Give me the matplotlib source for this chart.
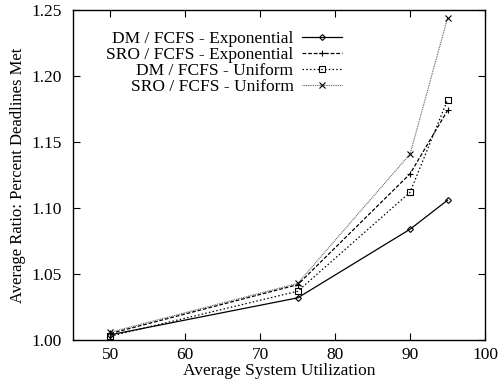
import numpy as np
import matplotlib
matplotlib.use('Agg')
import matplotlib.pyplot as plt

plt.rcParams['font.family'] = ['Liberation Serif', 'DejaVu Serif']
plt.rcParams['mathtext.fontset'] = 'stix'

#data
util = [50, 75, 90, 95]
dm_exp = [1.004, 1.032, 1.084, 1.106]
sro_exp = [1.005, 1.042, 1.126, 1.174]
dm_uni = [1.003, 1.037, 1.112, 1.182]
sro_uni = [1.006, 1.043, 1.141, 1.244]

labels = ['DM / FCFS - Exponential', 'SRO / FCFS - Exponential',
          'DM / FCFS - Uniform', 'SRO / FCFS - Uniform']

xticks = [50, 60, 70, 80, 90, 100]
yticks = [1.00, 1.05, 1.10, 1.15, 1.20, 1.25]

fig = plt.figure(figsize=(5.0, 3.9), dpi=100)
ax = fig.add_axes([0.146, 0.128, 0.824, 0.846])

ax.plot(util, dm_exp, color='black', lw=0.9, ls='-', marker='D',
        ms=3, mfc='none', mew=0.8, label=labels[0])
ax.plot(util, sro_exp, color='black', lw=0.9, ls=(0, (3, 1.5)), marker='+',
        ms=5, mew=0.8, label=labels[1])
ax.plot(util, dm_uni, color='black', lw=0.9, ls=(0, (1.2, 1.8)), marker='s',
        ms=4, mfc='none', mew=0.8, label=labels[2])
ax.plot(util, sro_uni, color='#555555', lw=0.8, ls=(0, (0.8, 0.8)), marker='x',
        ms=4, mec='black', mew=0.8, label=labels[3])

ax.set_xlim(45, 100)
ax.set_ylim(1.0, 1.25)
ax.set_xticks(xticks)
ax.set_yticks(yticks)
ax.set_yticklabels(['%.2f' % v for v in yticks])
ax.tick_params(direction='in', top=True, right=True, labelsize=12.5, length=5,
               width=0.8)
ax.tick_params(axis='y', pad=8)
ax.tick_params(axis='x', pad=5)
for s in ax.spines.values():
  s.set_linewidth(1.0)

ax.set_xlabel('Average System Utilization', fontsize=12.5, labelpad=0)
ax.set_ylabel('Average Ratio: Percent Deadlines Met', fontsize=12, labelpad=4)

leg = ax.legend(loc='upper right', bbox_to_anchor=(0.653, 0.938), frameon=False,
                markerfirst=False, fontsize=12.5, handlelength=2.3,
                handletextpad=0.5, labelspacing=0.0, borderaxespad=0.0,
                borderpad=0.0)
#right-align the labels like gnuplot does
leg._legend_box._children[-1]._children[0].align = 'right'

plt.savefig('out.png', dpi=100)
